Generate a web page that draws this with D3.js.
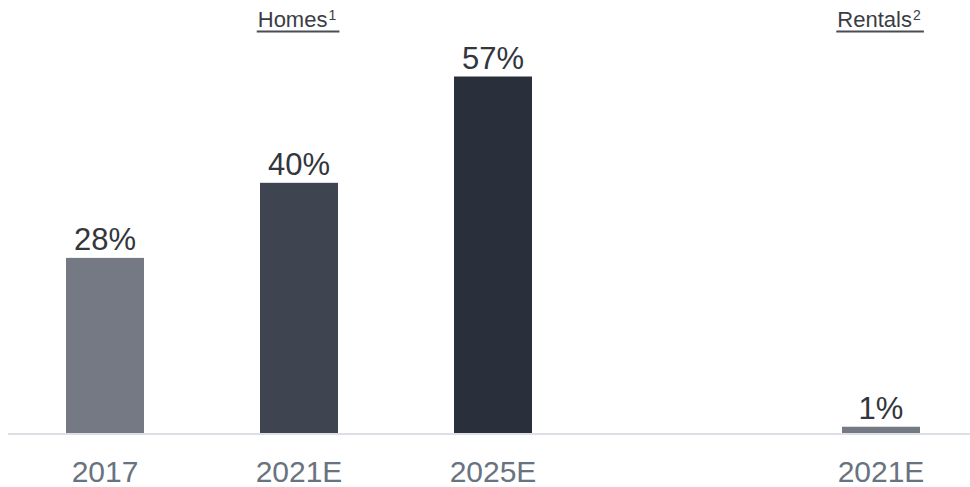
<!DOCTYPE html>
<html>
<head>
<meta charset="utf-8">
<script src="https://cdn.jsdelivr.net/npm/d3@7"></script>
<style>
  html, body { margin: 0; padding: 0; background: #ffffff; }
  svg { display: block; font-family: "Liberation Sans", Arial, sans-serif; }
</style>
</head>
<body>
<svg id="chart" width="970" height="487"></svg>
<script>
// Share of transactions, by year (homes) and for rentals
const slots = ["2017", "2021E", "2025E", "gap", "rent2021E"];
const categories = ["2017", "2021E", "2025E", "rent2021E"];
const tickLabels = ["2017", "2021E", "2025E", "2021E"];
const values = [28, 40, 57, 1];
const barColors = ["#757983", "#3e4450", "#2a303b", "#757983"];
const groupTitles = ["Homes", "Rentals"];
const groupNotes = ["1", "2"];
const groupAnchors = ["2021E", "rent2021E"];

const svg = d3.select("#chart");
const baseY = 433;

// five evenly spaced slots, the fourth left empty to separate the groups
const x = d3.scaleBand()
  .domain(slots)
  .range([8, 978])
  .paddingInner(0.598)
  .paddingOuter(0.299);

const y = d3.scaleLinear()
  .domain([0, 57])
  .range([baseY, baseY - 356.5]);

// baseline
svg.append("line")
  .attr("x1", 8).attr("x2", 970)
  .attr("y1", baseY + 1).attr("y2", baseY + 1)
  .attr("stroke", "#dcdfe4")
  .attr("stroke-width", 2);

// bars
svg.selectAll("rect.bar")
  .data(categories)
  .join("rect")
  .attr("class", "bar")
  .attr("x", d => x(d))
  .attr("width", x.bandwidth())
  .attr("y", (d, i) => y(values[i]))
  .attr("height", (d, i) => baseY - y(values[i]))
  .attr("fill", (d, i) => barColors[i]);

// value labels
svg.selectAll("text.val")
  .data(categories)
  .join("text")
  .attr("class", "val")
  .attr("x", d => x(d) + x.bandwidth() / 2)
  .attr("y", (d, i) => y(values[i]) - 8)
  .attr("text-anchor", "middle")
  .attr("font-size", 31)
  .attr("fill", "#33363c")
  .text((d, i) => values[i] + "%");

// category labels under the axis
svg.selectAll("text.tick")
  .data(categories)
  .join("text")
  .attr("class", "tick")
  .attr("x", d => x(d) + x.bandwidth() / 2)
  .attr("y", 482)
  .attr("text-anchor", "middle")
  .attr("font-size", 30)
  .attr("fill", "#69737f")
  .text((d, i) => tickLabels[i]);

// group headings with footnote marks, underlined
groupTitles.forEach((t, i) => {
  const cx = x(groupAnchors[i]) + x.bandwidth() / 2 - 2;
  const g = svg.append("g");
  const txt = g.append("text")
    .attr("x", cx)
    .attr("y", 27)
    .attr("text-anchor", "middle")
    .attr("font-size", 22)
    .attr("fill", "#3a3d44");
  txt.append("tspan").text(t);
  txt.append("tspan")
    .attr("font-size", 14)
    .attr("dx", 1)
    .attr("dy", -7)
    .text(groupNotes[i]);
  const bb = txt.node().getBBox();
  g.append("line")
    .attr("x1", bb.x - 1).attr("x2", bb.x + bb.width + 3)
    .attr("y1", 31.5).attr("y2", 31.5)
    .attr("stroke", "#4a4d55")
    .attr("stroke-width", 2);
});
</script>
</body>
</html>
